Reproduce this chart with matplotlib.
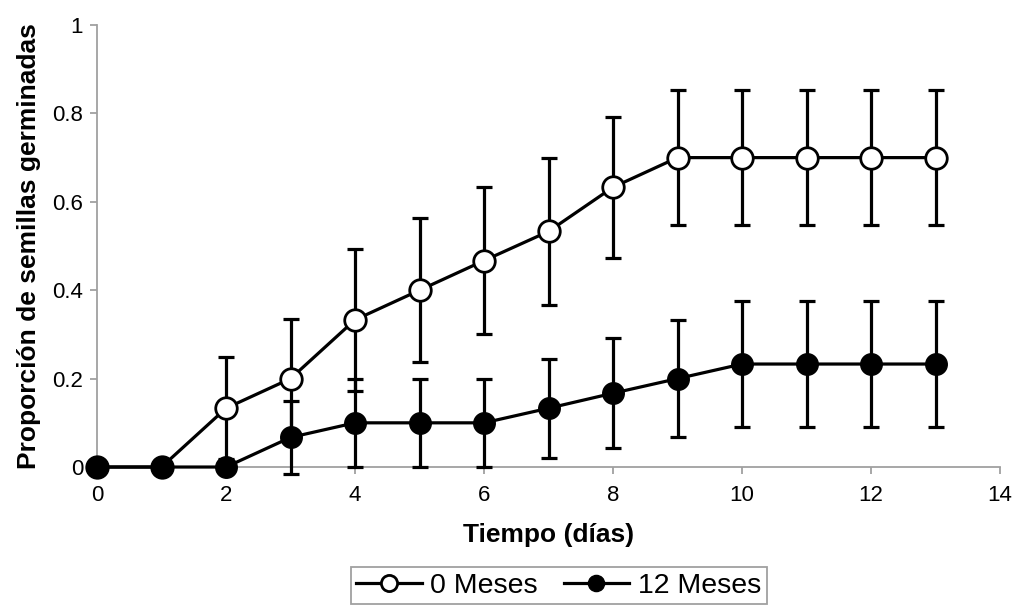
import matplotlib.pyplot as plt
import numpy as np

# germination proportion over time, two seed ages
dias = np.arange(14)
meses_0 = [0, 0, 0.133, 0.2, 0.333, 0.4, 0.467, 0.533, 0.633, 0.7, 0.7, 0.7, 0.7, 0.7]
err_0 = [0, 0, 0.115, 0.135, 0.16, 0.163, 0.166, 0.166, 0.16, 0.152, 0.152, 0.152, 0.152, 0.152]
meses_12 = [0, 0, 0, 0.067, 0.1, 0.1, 0.1, 0.133, 0.167, 0.2, 0.233, 0.233, 0.233, 0.233]
err_12 = [0, 0, 0, 0.083, 0.1, 0.1, 0.1, 0.112, 0.125, 0.133, 0.143, 0.143, 0.143, 0.143]

xticks = [0, 2, 4, 6, 8, 10, 12, 14]
yticks = [0, 0.2, 0.4, 0.6, 0.8, 1]
ytick_labels = ['0', '0.2', '0.4', '0.6', '0.8', '1']

plt.rcParams['font.family'] = ['Liberation Sans', 'DejaVu Sans']

fig = plt.figure(figsize=(10.14, 6.07), dpi=100)
ax = fig.add_axes([0.0957, 0.2306, 0.8905, 0.7282])

gris = '#a0a0a0'
lw = 2.3

# open circles
ax.errorbar(dias, meses_0, yerr=err_0, fmt='none', ecolor='black',
            elinewidth=lw, capsize=6, capthick=lw, clip_on=False, zorder=2)
l0, = ax.plot(dias, meses_0, color='black', lw=lw, marker='o', markersize=15.5,
              markerfacecolor='white', markeredgecolor='black', markeredgewidth=2,
              clip_on=False, zorder=3)
# filled circles
ax.errorbar(dias, meses_12, yerr=err_12, fmt='none', ecolor='black',
            elinewidth=lw, capsize=6, capthick=lw, clip_on=False, zorder=4)
l12, = ax.plot(dias, meses_12, color='black', lw=lw, marker='o', markersize=15.5,
               markerfacecolor='black', markeredgecolor='black',
               clip_on=False, zorder=5)

ax.set_xlim(0, 14)
ax.set_ylim(0, 1)
ax.set_xticks(xticks)
ax.set_yticks(yticks)
ax.set_yticklabels(ytick_labels)

for s in ['top', 'right']:
    ax.spines[s].set_visible(False)
for s in ['left', 'bottom']:
    ax.spines[s].set_color(gris)
    ax.spines[s].set_linewidth(1.3)
ax.tick_params(axis='both', direction='out', length=5, width=1.3, color=gris,
               labelsize=16, labelcolor='black')
ax.tick_params(axis='x', pad=8)
ax.tick_params(axis='y', pad=5)

ax.set_xlabel('Tiempo (días)', fontsize=19, fontweight='bold', labelpad=12)
ax.set_ylabel('Proporción de semillas germinadas', fontsize=19, fontweight='bold',
              labelpad=8)

leg = fig.legend([l0, l12], ['0 Meses', '12 Meses'], loc='upper center',
                 bbox_to_anchor=(0.551, 0.066), ncol=2, fontsize=20.5, frameon=True,
                 fancybox=False, edgecolor=gris, framealpha=1, borderpad=0.2,
                 handlelength=2.3, handletextpad=0.3, columnspacing=0.9,
                 markerscale=0.75, borderaxespad=0)
leg.get_frame().set_linewidth(1.3)

fig.savefig('out.png', dpi=100)
